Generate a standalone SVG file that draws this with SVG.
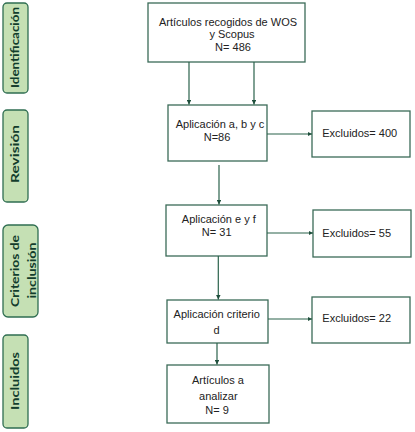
<svg xmlns="http://www.w3.org/2000/svg" width="415" height="432" viewBox="0 0 415 432">
<style>
.side rect{fill:#c5e0b4;stroke:#2f6e52;stroke-width:1.3}
.side text{font-family:"Lato","Open Sans",sans-serif;font-weight:bold;font-size:11.5px;fill:#123d2c;text-anchor:middle}
.box rect{fill:#fff;stroke:#3b6b58;stroke-width:1.3}
.box text{font-family:"Liberation Sans",Arial,sans-serif;font-size:11px;fill:#222;text-anchor:middle}
.conn line{stroke:#2a624b;stroke-width:1.2;marker-end:url(#ah)}
</style>
<defs>
<marker id="ah" viewBox="0 0 6 6" refX="6" refY="3" markerWidth="4.5" markerHeight="4.5" orient="auto" markerUnits="userSpaceOnUse">
<path d="M0,0 L6,3 L0,6 Z" fill="#1f4f3c"/>
</marker>
</defs>
<rect width="415" height="432" fill="#fff"/>

<g id="side-identificacion" class="side">
<rect x="3" y="3" width="25" height="90" rx="4"/>
<text transform="translate(19,47.5) rotate(-90)" textLength="81" lengthAdjust="spacingAndGlyphs">Identificación</text>
</g>
<g id="side-revision" class="side">
<rect x="3" y="110" width="25" height="92" rx="4"/>
<text transform="translate(19,154) rotate(-90)" textLength="58" lengthAdjust="spacingAndGlyphs">Revisión</text>
</g>
<g id="side-criterios" class="side">
<rect x="3" y="225" width="35" height="92" rx="5"/>
<text transform="translate(19,271) rotate(-90)" textLength="72" lengthAdjust="spacingAndGlyphs">Criterios de</text>
<text transform="translate(35.5,270.5) rotate(-90)" textLength="56" lengthAdjust="spacingAndGlyphs">inclusión</text>
</g>
<g id="side-incluidos" class="side">
<rect x="3" y="335" width="25" height="93" rx="4"/>
<text transform="translate(19,381) rotate(-90)" textLength="58" lengthAdjust="spacingAndGlyphs">Incluidos</text>
</g>

<g id="n1" class="box">
<rect x="148" y="3" width="157" height="59"/>
<text x="228" y="25.5">Artículos recogidos de WOS</text>
<text x="232" y="38">y Scopus</text>
<text x="233" y="50.5">N= 486</text>
</g>
<g id="n2" class="box">
<rect x="168" y="105" width="99" height="56"/>
<text x="220" y="128.3">Aplicación a, b y c</text>
<text x="217" y="141">N=86</text>
</g>
<g id="x1" class="box">
<rect x="312" y="111" width="98" height="46"/>
<text x="359.7" y="136.7">Excluidos= 400</text>
</g>
<g id="n3" class="box">
<rect x="166" y="205" width="101" height="51"/>
<text x="218.8" y="222.7">Aplicación e y f</text>
<text x="216.7" y="236">N= 31</text>
</g>
<g id="x2" class="box">
<rect x="313" y="210" width="98" height="47"/>
<text x="356.7" y="236.7">Excluidos= 55</text>
</g>
<g id="n4" class="box">
<rect x="167" y="300" width="101" height="43"/>
<text x="216.7" y="318.3">Aplicación criterio</text>
<text x="216.5" y="334.3">d</text>
</g>
<g id="x3" class="box">
<rect x="312" y="297" width="98" height="46"/>
<text x="356.7" y="321.7">Excluidos= 22</text>
</g>
<g id="n5" class="box">
<rect x="167" y="365" width="102" height="58"/>
<text x="217.9" y="384">Artículos a</text>
<text x="218.3" y="400">analizar</text>
<text x="217" y="414">N= 9</text>
</g>

<g id="connectors" class="conn">
<line x1="189" y1="62" x2="189" y2="104.5"/>
<line x1="254" y1="62" x2="254" y2="104.5"/>
<line x1="267" y1="134" x2="312" y2="134"/>
<line x1="219" y1="165" x2="219" y2="204.5"/>
<line x1="267" y1="233" x2="313" y2="233"/>
<line x1="218.3" y1="256" x2="218.3" y2="299.5"/>
<line x1="268" y1="319" x2="312" y2="319"/>
<line x1="217" y1="343" x2="217" y2="364.5"/>
</g>
</svg>
